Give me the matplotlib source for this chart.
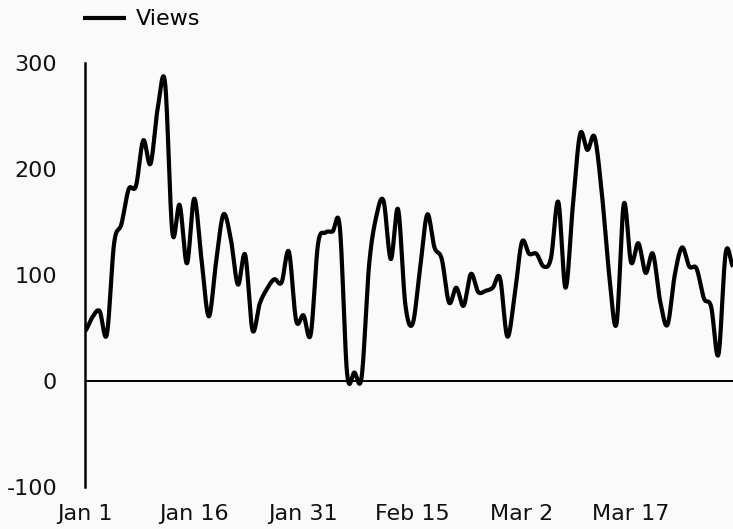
import matplotlib
matplotlib.use("Agg")
import matplotlib.pyplot as plt
import numpy as np
import pandas as pd

# daily views, Jan 1 .. Mar 31
start_date = "2023-01-01"
views = [47, 60, 66, 44, 130, 148, 181, 184, 227, 205,
         258, 281, 140, 166, 111, 172, 115, 61, 112, 157,
         135, 91, 119, 48, 73, 87, 96, 93, 122, 57,
         62, 44, 129, 140, 141, 145, 7, 8, 4, 108,
         155, 170, 115, 162, 72, 54, 105, 157, 126, 115,
         74, 88, 71, 101, 84, 85, 88, 97, 42, 80,
         131, 120, 120, 108, 116, 169, 88, 165, 233, 218,
         230, 176, 100, 54, 167, 112, 130, 102, 120, 75,
         53, 100, 126, 108, 106, 78, 70, 25, 121, 108]
series_name = "Views"
y_ticks = [-100, 0, 100, 200, 300]
tick_every = 15


def catmull_rom(y, steps=24):
    # uniform catmull-rom through every point (cardinal curve, tension 0)
    y = np.asarray(y, dtype=float)
    p = np.concatenate([[y[0]], y, [y[-1]]])
    t = np.linspace(0, 1, steps, endpoint=False)
    xs, ys = [], []
    for i in range(len(y) - 1):
        p0, p1, p2, p3 = p[i], p[i + 1], p[i + 2], p[i + 3]
        seg = 0.5 * ((2 * p1) + (-p0 + p2) * t
                     + (2 * p0 - 5 * p1 + 4 * p2 - p3) * t ** 2
                     + (-p0 + 3 * p1 - 3 * p2 + p3) * t ** 3)
        xs.append(i + t)
        ys.append(seg)
    xs.append([len(y) - 1])
    ys.append([y[-1]])
    return np.concatenate(xs), np.concatenate(ys)


def main():
    plt.rcParams["font.family"] = ["DejaVu Sans"]
    bg = "#fafafa"
    fig = plt.figure(figsize=(7.33, 5.29), dpi=100, facecolor=bg)
    ax = fig.add_axes([85 / 733, 42 / 529, 648 / 733, 424 / 529])
    ax.set_facecolor(bg)

    dates = pd.date_range(start_date, periods=len(views), freq="D")
    x = np.arange(len(views))
    sx, sy = catmull_rom(views)

    ax.axhline(0, color="black", lw=1.4, zorder=1)
    line, = ax.plot(sx, sy, color="black", lw=3.0, solid_capstyle="butt",
                    label=series_name, zorder=3)

    ax.set_xlim(0, len(views) - 1)
    ax.set_ylim(y_ticks[0], y_ticks[-1])
    ax.set_yticks(y_ticks)
    ax.set_yticklabels([str(v) for v in y_ticks])
    ax.set_xticks(x[::tick_every])
    ax.set_xticklabels([f"{d.strftime('%b')} {d.day}" for d in dates[::tick_every]])

    for s in ["top", "right", "bottom"]:
        ax.spines[s].set_visible(False)
    ax.spines["left"].set_linewidth(1.8)
    ax.tick_params(axis="both", length=0, labelsize=16, colors="#111111")
    ax.tick_params(axis="y", pad=20)
    ax.tick_params(axis="x", pad=12)

    fig.legend(handles=[line], loc="upper left", bbox_to_anchor=(80 / 733, 1 - 6 / 529),
               frameon=False, fontsize=16, handlelength=1.9, handletextpad=0.45,
               borderaxespad=0.0, borderpad=0.15)

    fig.savefig("out.png", dpi=100, facecolor=bg)


if __name__ == "__main__":
    main()
